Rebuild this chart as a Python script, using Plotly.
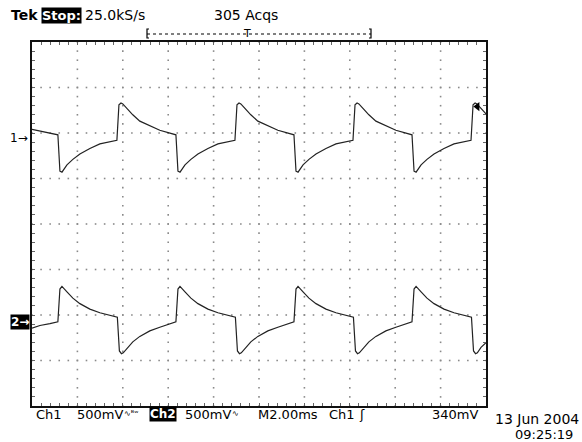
import plotly.graph_objects as go

# ---------------- data (read from the screen capture) ----------------
# time in ms (M 2.00 ms/div, 10 div), voltages in V (500 mV/div)
ch1_t = [0.00, 0.35, 0.79,
         1.14, 1.23, 1.32, 1.54, 1.80, 2.11, 2.55, 2.99, 3.74, 3.83, 3.92, 4.00, 4.18, 4.44, 4.75, 5.19, 5.63,
         6.34, 6.43, 6.52, 6.74, 7.00, 7.31, 7.75, 8.19, 8.94, 9.03, 9.12, 9.20, 9.38, 9.64, 9.95, 10.39, 10.83,
         11.54, 11.63, 11.72, 11.94, 12.20, 12.51, 12.95, 13.39, 14.14, 14.23, 14.32, 14.40, 14.58, 14.84, 15.15, 15.59, 16.03,
         16.74, 16.83, 16.92, 17.14, 17.40, 17.71, 18.15, 18.59, 19.34, 19.43, 19.52, 19.60, 19.78, 20.00]
ch1_v = [0.09, 0.07, 0.05,
         0.03, -0.37, -0.38, -0.30, -0.24, -0.18, -0.12, -0.07, -0.03, 0.36, 0.38, 0.37, 0.32, 0.25, 0.18, 0.13, 0.08,
         0.03, -0.37, -0.38, -0.30, -0.24, -0.18, -0.12, -0.07, -0.03, 0.36, 0.38, 0.37, 0.32, 0.25, 0.18, 0.13, 0.08,
         0.03, -0.37, -0.38, -0.30, -0.24, -0.18, -0.12, -0.07, -0.03, 0.36, 0.38, 0.37, 0.32, 0.25, 0.18, 0.13, 0.08,
         0.03, -0.37, -0.38, -0.30, -0.24, -0.18, -0.12, -0.07, -0.03, 0.36, 0.38, 0.37, 0.32, 0.26]

ch2_t = [0.00, 0.35, 0.79,
         1.14, 1.23, 1.32, 1.54, 1.80, 2.11, 2.55, 2.99, 3.76, 3.85, 3.94, 4.02, 4.18, 4.44, 4.75, 5.19, 5.63,
         6.34, 6.43, 6.52, 6.74, 7.00, 7.31, 7.75, 8.19, 8.96, 9.05, 9.14, 9.22, 9.38, 9.64, 9.95, 10.39, 10.83,
         11.54, 11.63, 11.72, 11.94, 12.20, 12.51, 12.95, 13.39, 14.16, 14.25, 14.34, 14.42, 14.58, 14.84, 15.15, 15.59, 16.03,
         16.74, 16.83, 16.92, 17.14, 17.40, 17.71, 18.15, 18.59, 19.36, 19.45, 19.54, 19.62, 19.78, 20.00]
ch2_v = [-0.09, -0.06, -0.04,
         -0.02, 0.34, 0.37, 0.31, 0.24, 0.18, 0.12, 0.08, 0.03, -0.34, -0.37, -0.36, -0.31, -0.24, -0.18, -0.12, -0.08,
         -0.02, 0.34, 0.37, 0.31, 0.24, 0.18, 0.12, 0.08, 0.03, -0.34, -0.37, -0.36, -0.31, -0.24, -0.18, -0.12, -0.08,
         -0.02, 0.34, 0.37, 0.31, 0.24, 0.18, 0.12, 0.08, 0.03, -0.34, -0.37, -0.36, -0.31, -0.24, -0.18, -0.12, -0.08,
         -0.02, 0.34, 0.37, 0.31, 0.24, 0.18, 0.12, 0.08, 0.03, -0.34, -0.37, -0.36, -0.30, -0.25]

VOLTS_PER_DIV = 0.5
MS_PER_DIV = 2.0
CH1_POS = 1.9      # channel ground position, divisions
CH2_POS = -2.11
TRIG_LEVEL = 0.34  # V on Ch1

top_labels = ["Tek", "Stop:", "25.0kS/s", "305 Acqs"]
bottom_labels = ["Ch1", "500mV", "\u223f\u1d2e\u02b7", "Ch2", "500mV", "\u223f", "M2.00ms", "Ch1", "\u0283", "340mV"]
date_label = "13 Jun 2004"
time_label = "09:25:19"

# ---------------- figure ----------------
W, H = 582, 442
L, R, T, B = 32, 486, 42, 406


def px(x):
    return (x - L) / (R - L)


def py(y):
    return (B - y) / (B - T)


FONT = "DejaVu Sans"
fig = go.Figure()

# dotted graticule
gx, gy = [], []
for k in range(1, 10):
    for j in range(0, 41):
        gx.append(k * MS_PER_DIV)
        gy.append(-4 + j * 0.2)
for k in range(-3, 4):
    for j in range(0, 51):
        gx.append(j * 0.2 * MS_PER_DIV)
        gy.append(k)
fig.add_trace(go.Scatter(x=gx, y=gy, mode="markers",
                         marker=dict(symbol="square", size=1.6, color="#8a8a8a", line=dict(width=0)),
                         hoverinfo="skip", showlegend=False))

fig.add_trace(go.Scatter(x=ch1_t, y=[CH1_POS + v / VOLTS_PER_DIV for v in ch1_v], mode="lines",
                         line=dict(color="#222222", width=1.2), showlegend=False))
fig.add_trace(go.Scatter(x=ch2_t, y=[CH2_POS + v / VOLTS_PER_DIV for v in ch2_v], mode="lines",
                         line=dict(color="#222222", width=1.2), showlegend=False))

# trigger level indicator
fig.add_trace(go.Scatter(x=[19.62], y=[CH1_POS + TRIG_LEVEL / VOLTS_PER_DIV], mode="markers",
                         marker=dict(symbol="triangle-left", size=8, color="black"),
                         cliponaxis=False, showlegend=False, hoverinfo="skip"))

ax = dict(showgrid=False, zeroline=False, showticklabels=False, ticks="inside", ticklen=3,
          tickcolor="#666666", tickwidth=1, showline=True, linecolor="#111111", linewidth=1.5,
          mirror="allticks")
fig.update_xaxes(range=[0, 10 * MS_PER_DIV], tick0=0, dtick=0.2 * MS_PER_DIV, **ax)
fig.update_yaxes(range=[-4, 4], tick0=0, dtick=0.2, **ax)

ann = []


def text(t, x, y, size=14, color="black", bg=None, anchor="left", bold=False):
    ann.append(dict(text=("<b>%s</b>" % t) if bold else t, x=px(x), y=py(y), xref="paper", yref="paper",
                    xanchor=anchor, yanchor="middle", showarrow=False,
                    font=dict(family=FONT, size=size, color=color),
                    bgcolor=bg, borderpad=0))


text(top_labels[0], 10, 15, size=14, bold=True)
text(top_labels[1], 41, 15, size=13, color="white", bg="black", bold=True)
text(top_labels[2], 84, 15, size=14)
text(top_labels[3], 213, 15, size=14)
text("T", 247, 33, size=11, anchor="center")

BY = 414
text(bottom_labels[0], 35, BY, size=13)
text(bottom_labels[1], 76, BY, size=13)
text(bottom_labels[2], 123, BY - 1, size=8)
text(bottom_labels[3], 149, BY, size=12, color="white", bg="black", bold=True)
text(bottom_labels[4], 184, BY, size=13)
text(bottom_labels[5], 231, BY - 1, size=8)
text(bottom_labels[6], 257, BY, size=13)
text(bottom_labels[7], 328, BY, size=13)
text(bottom_labels[8], 358, BY, size=13)
text(bottom_labels[9], 431, BY, size=13)
text(date_label, 494, 419, size=14)
text(time_label, 514, 434, size=13)

# channel markers
ann.append(dict(text="1\u2192", x=px(30), y=CH1_POS, xref="paper", yref="y", xanchor="right",
                yanchor="middle", showarrow=False, font=dict(family=FONT, size=12, color="black")))
ann.append(dict(text="<b>2\u2192</b>", x=px(30), y=CH2_POS - 0.05, xref="paper", yref="y", xanchor="right",
                yanchor="middle", showarrow=False, font=dict(family=FONT, size=12, color="white"),
                bgcolor="black", borderpad=0))

shapes = [
    dict(type="line", xref="paper", yref="paper", x0=px(147), x1=px(371), y0=py(34), y1=py(34),
         line=dict(color="black", width=1, dash="dot")),
    dict(type="path", xref="paper", yref="paper",
         path="M %f %f L %f %f L %f %f L %f %f" % (px(149), py(29), px(147), py(29), px(147), py(38), px(149), py(38)),
         line=dict(color="black", width=1.2)),
    dict(type="path", xref="paper", yref="paper",
         path="M %f %f L %f %f L %f %f L %f %f" % (px(369), py(29), px(371), py(29), px(371), py(38), px(369), py(38)),
         line=dict(color="black", width=1.2)),
]

fig.update_layout(width=W, height=H, margin=dict(l=L, r=W - R, t=T, b=H - B, pad=0),
                  paper_bgcolor="white", plot_bgcolor="white", annotations=ann, shapes=shapes,
                  showlegend=False)

fig.write_html("out.html", config={"displayModeBar": False},
               post_script="document.body.style.margin='0px';document.body.style.overflow='hidden';")
